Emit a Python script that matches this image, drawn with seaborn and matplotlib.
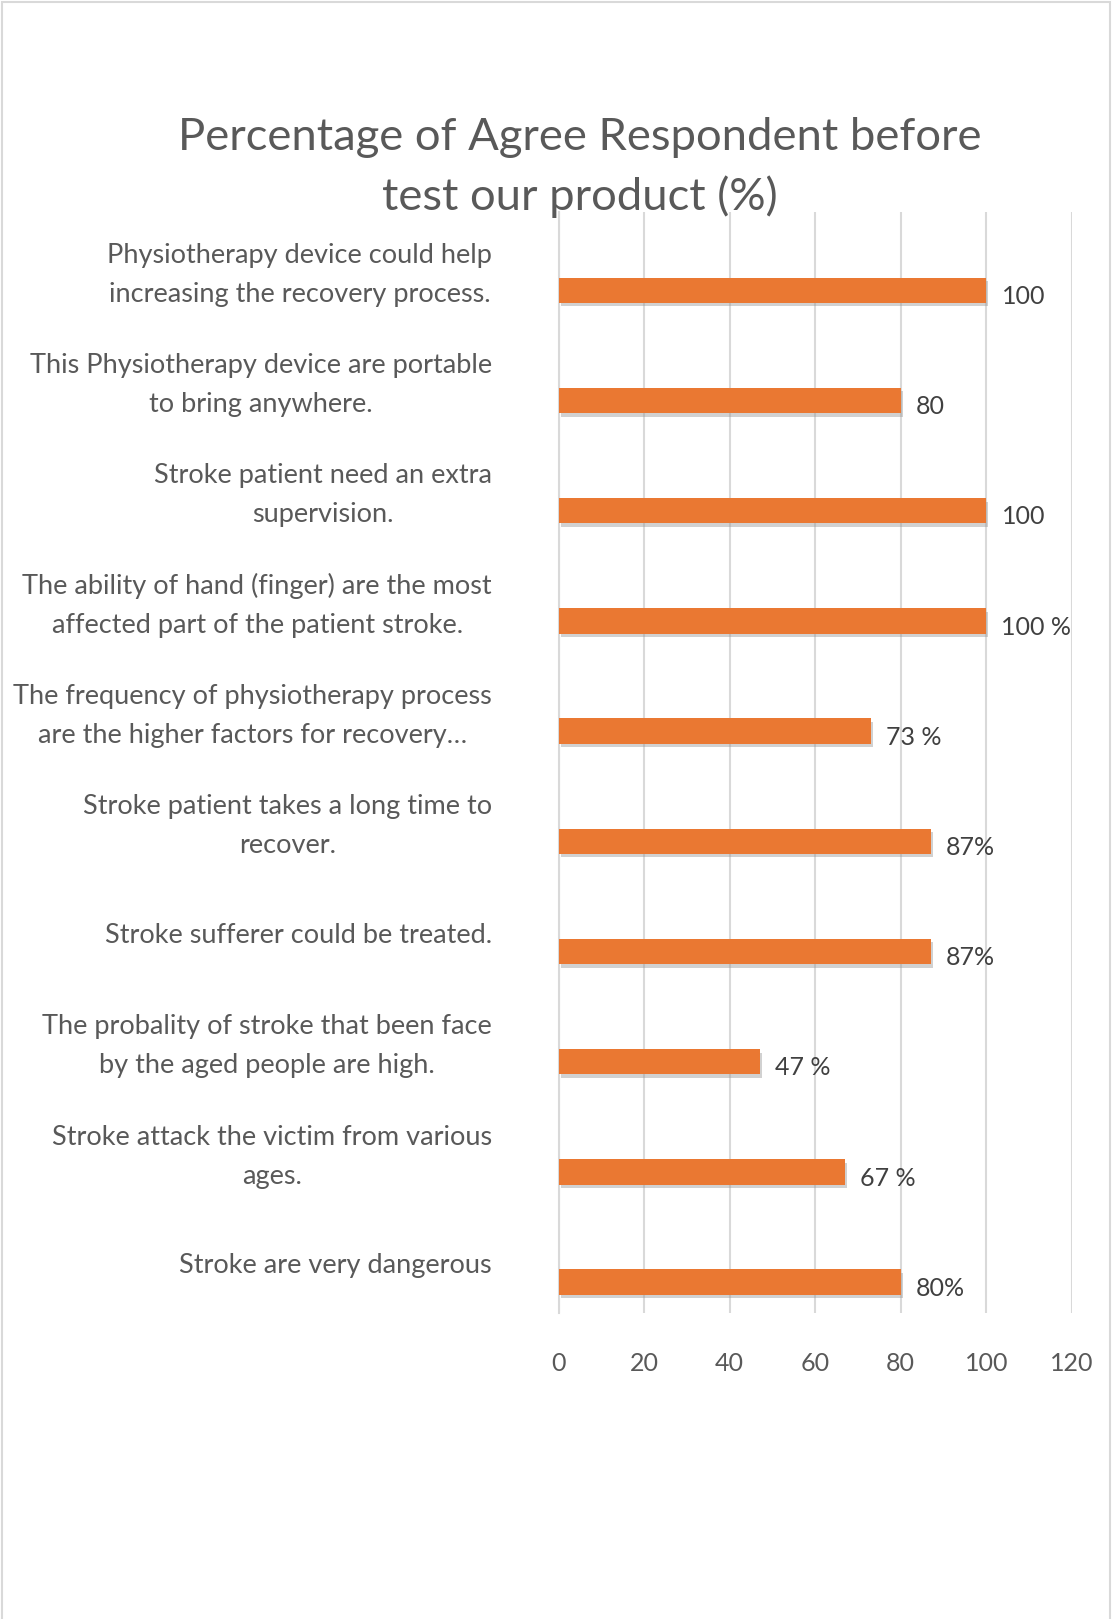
import matplotlib
matplotlib.use("Agg")
import matplotlib.pyplot as plt
import matplotlib.patheffects as pe
from matplotlib.patches import Rectangle
import numpy as np
import pandas as pd
import seaborn as sns

# Survey statements (top to bottom) and share of respondents agreeing
statements = [
    "Physiotherapy device could help\nincreasing the recovery process.",
    "This Physiotherapy device are portable\nto bring anywhere.",
    "Stroke patient need an extra\nsupervision.",
    "The ability of hand (finger) are the most\naffected part of the patient stroke.",
    "The frequency of physiotherapy process\nare the higher factors for recovery\u2026",
    "Stroke patient takes a long time to\nrecover.",
    "Stroke sufferer could be treated.",
    "The probality of stroke that been face\nby the aged people are high.",
    "Stroke attack the victim from various\nages.",
    "Stroke are very dangerous",
]
agree_pct = [100, 80, 100, 100, 73, 87, 87, 47, 67, 80]
value_labels = ["100", "80", "100", "100 %", "73 %", "87%", "87%", "47 %", "67 %", "80%"]
x_ticks = [0, 20, 40, 60, 80, 100, 120]

title = "Percentage of Agree Respondent before\ntest our product (%)"

sns.set_theme(style="white")
plt.rcParams["font.family"] = ["Lato", "DejaVu Sans"]

df = pd.DataFrame({"statement": statements, "pct": agree_pct})

fig = plt.figure(figsize=(11.12, 16.19), dpi=100)
ax = fig.add_axes([0.5023, 0.189, 0.4615, 0.680])

bar_color = "#EA7832"
sns.barplot(data=df, x="pct", y="statement", orient="h", color=bar_color,
            width=0.23, saturation=1, ax=ax, zorder=3)

for patch in ax.patches:
    patch.set_edgecolor("none")
    patch.set_path_effects([
        pe.SimplePatchShadow(offset=(1.5, -2.5), shadow_rgbFace="#9a9a9a", alpha=0.45),
        pe.Normal(),
    ])

# value labels to the right of each bar
for i, (v, txt) in enumerate(zip(agree_pct, value_labels)):
    ax.annotate(txt, xy=(v, i), xytext=(11, -4.5), textcoords="offset points",
                ha="left", va="center", fontsize=18, color="#404040", zorder=4)

ax.set_xlim(0, 120)
ax.set_ylim(9.28, -0.71)
ax.set_xticks(x_ticks)
ax.set_xticklabels([str(t) for t in x_ticks], fontsize=18, color="#595959")

# category labels sit above their bars; single-line ones a little lower
label_shift = np.array([-0.225 if "\n" in s else -0.17 for s in statements])
ax.set_yticks(np.arange(len(statements)) + label_shift)
ax.set_yticklabels(statements, fontsize=19.5, color="#595959",
                   multialignment="center", linespacing=1.7)
ax.tick_params(axis="y", length=0, pad=48)
ax.tick_params(axis="x", length=0, pad=28)
ax.set_xlabel("")
ax.set_ylabel("")

ax.grid(axis="x", color="#d9d9d9", linewidth=1.5, zorder=0)
ax.grid(axis="y", visible=False)
for s in ["top", "right", "bottom"]:
    ax.spines[s].set_visible(False)
ax.spines["left"].set_color("#d9d9d9")
ax.spines["left"].set_linewidth(1.5)

fig.text(0.521, 0.8966, title, ha="center", va="center", fontsize=32.7,
         color="#595959", linespacing=1.5)

# light chart-area frame
fig.patches.append(Rectangle((0.0018, -0.05), 0.9964, 1.0488, transform=fig.transFigure,
                             fill=False, edgecolor="#d9d9d9", linewidth=1.5))

fig.savefig("out.png", dpi=100)
